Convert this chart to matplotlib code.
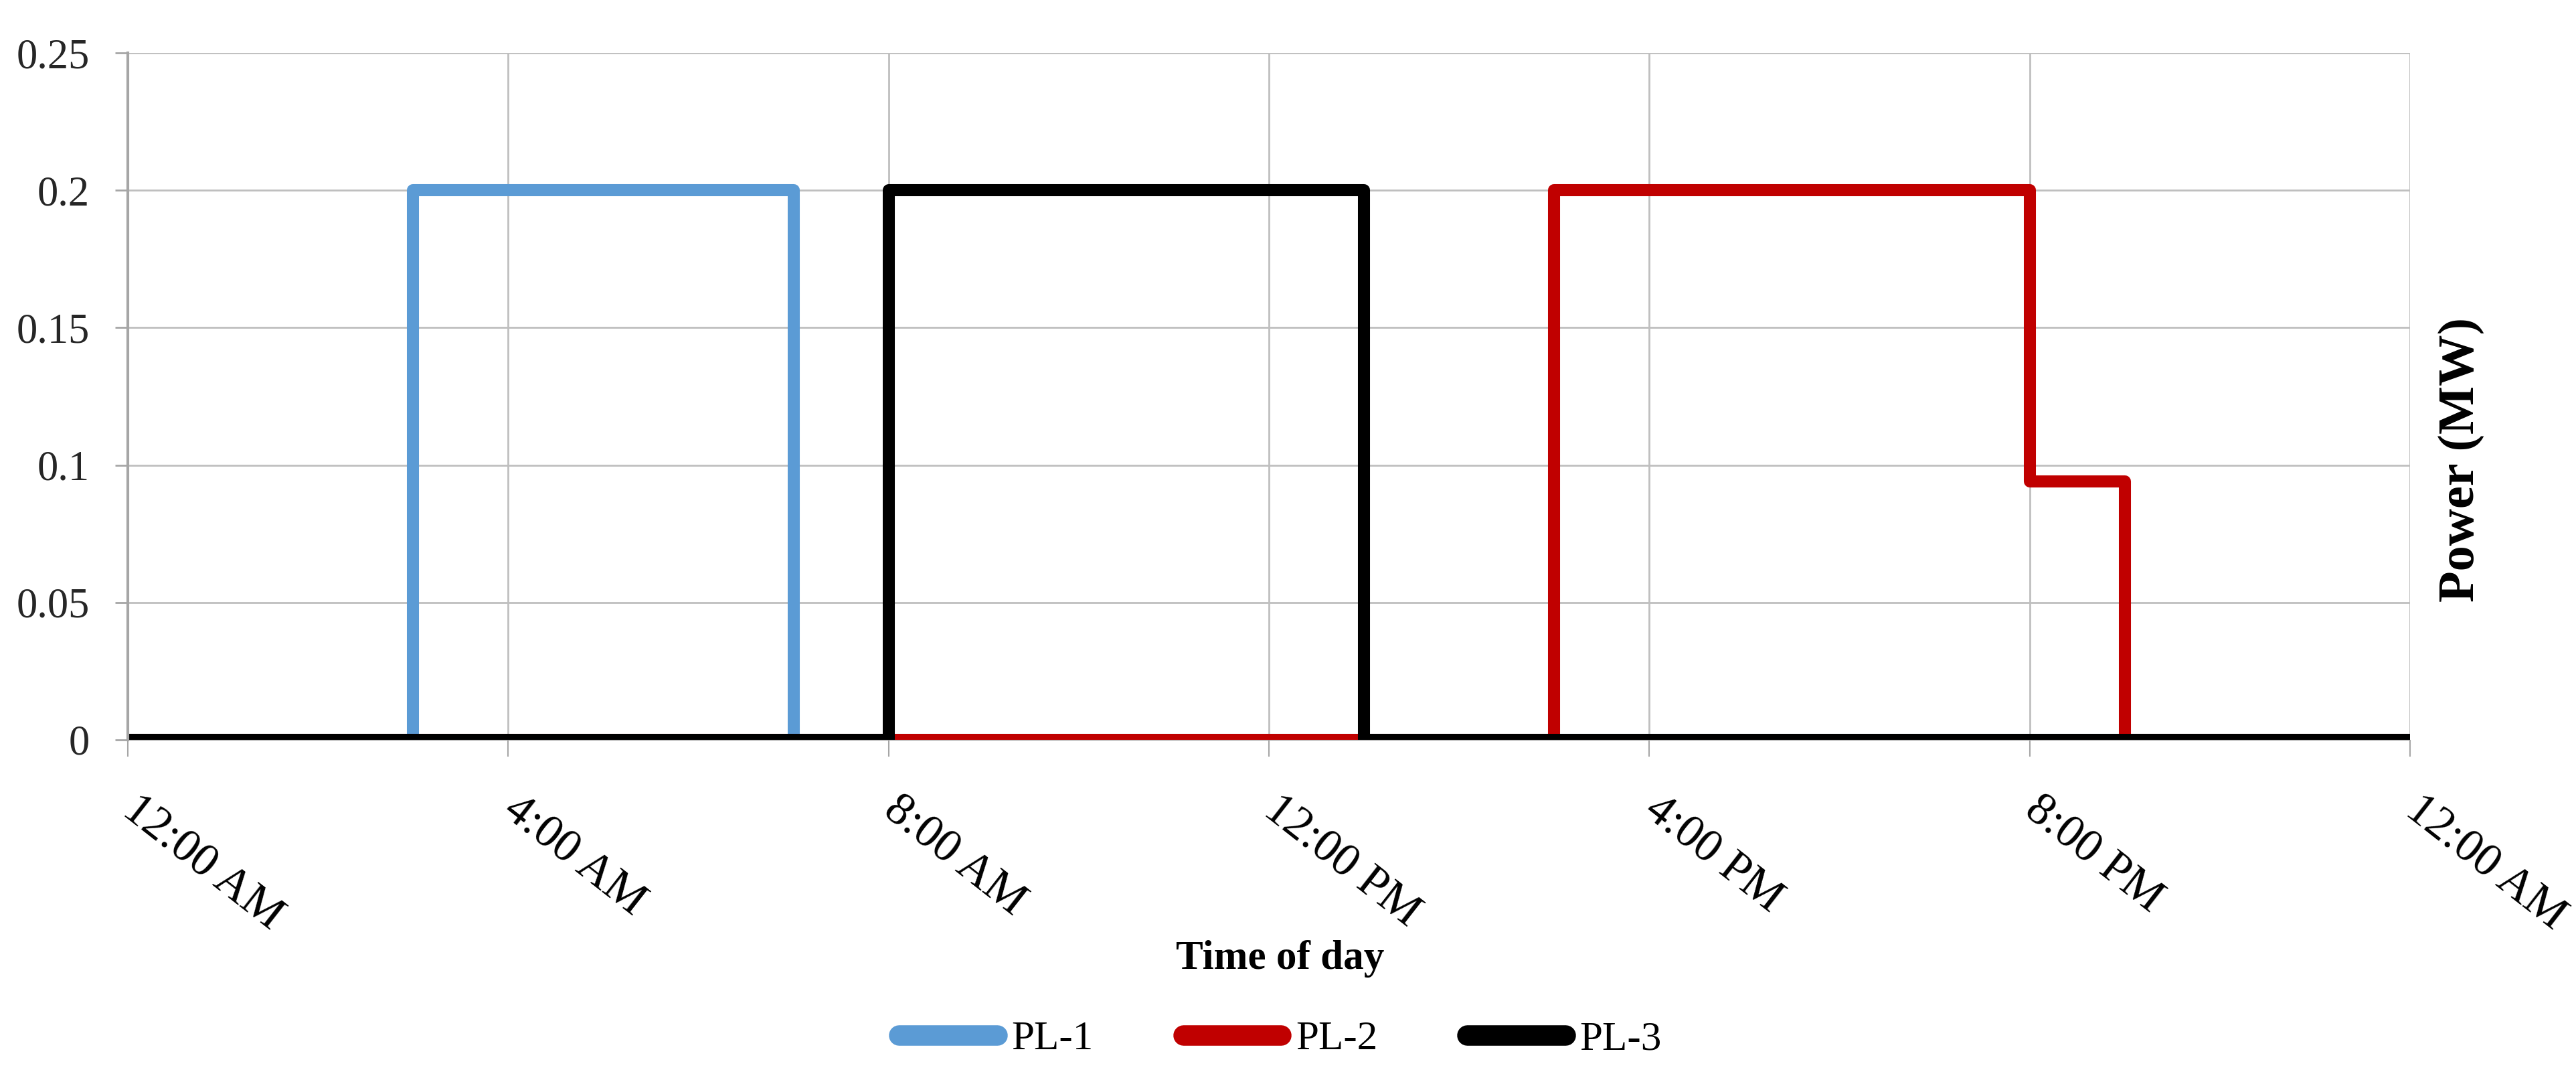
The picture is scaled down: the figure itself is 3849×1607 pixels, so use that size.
import numpy as np
import matplotlib
matplotlib.use('Agg')
import matplotlib.pyplot as plt

# hourly load profile (MW), value holds from the hour until the next one
hours = np.arange(0, 25)
pl1 = [0, 0, 0, 0.2, 0.2, 0.2, 0.2, 0, 0, 0, 0, 0,
       0, 0, 0, 0, 0, 0, 0, 0, 0, 0, 0, 0]
pl2 = [0, 0, 0, 0, 0, 0, 0, 0, 0, 0, 0, 0,
       0, 0, 0, 0.2, 0.2, 0.2, 0.2, 0.2, 0.094, 0, 0, 0]
pl3 = [0, 0, 0, 0, 0, 0, 0, 0, 0.2, 0.2, 0.2, 0.2,
       0.2, 0, 0, 0, 0, 0, 0, 0, 0, 0, 0, 0]

series = [("PL-1", pl1, "#5B9BD5"), ("PL-2", pl2, "#C00000"), ("PL-3", pl3, "#000000")]

tick_hours = [0, 4, 8, 12, 16, 20, 24]
tick_labels = ["12:00 AM", "4:00 AM", "8:00 AM", "12:00 PM", "4:00 PM", "8:00 PM", "12:00 AM"]
y_ticks = [0, 0.05, 0.1, 0.15, 0.2, 0.25]
y_labels = ["0", "0.05", "0.1", "0.15", "0.2", "0.25"]

serif = "Liberation Serif"

fig = plt.figure(figsize=(38.49, 16.07), dpi=100)
ax = fig.add_axes([0.0496, 0.3124, 0.886, 0.6384])

for name, vals, color in series:
    ax.step(hours, np.append(vals, vals[-1]), where="post", color=color,
            lw=13, label=name, solid_joinstyle="round", solid_capstyle="butt")

ax.set_xlim(0, 24)
ax.set_ylim(0, 0.25)
ax.set_xticks(tick_hours)
ax.set_xticklabels(tick_labels, rotation=-38, ha="left", va="center",
                   rotation_mode="anchor", fontfamily=serif, fontsize=50)
ax.set_yticks(y_ticks)
ax.set_yticklabels(y_labels, fontfamily=serif, fontsize=45)

ax.grid(True, color="#BFBFBF", lw=2)
ax.set_axisbelow(True)
for s in ["top", "right"]:
    ax.spines[s].set_visible(False)
ax.spines["left"].set_color("#A6A6A6")
ax.spines["left"].set_linewidth(3)
ax.spines["bottom"].set_color("#A6A6A6")
ax.tick_params(axis="y", length=14, width=2, color="#A6A6A6", pad=27, labelcolor="#262626")
ax.tick_params(axis="x", length=18, width=1.5, color="#A6A6A6", pad=52, labelcolor="black")

fig.text(0.497, 0.109, "Time of day", family=serif, weight="bold",
         fontsize=44, ha="center", va="center")
fig.text(0.9555, 0.573, "Power (MW)", family=serif, weight="bold",
         fontsize=55, rotation=90, ha="center", va="center")

leg = fig.legend(loc="center", bbox_to_anchor=(0.497, 0.034), ncol=3, frameon=False,
                 prop={"family": serif, "size": 44}, handlelength=2.4,
                 handletextpad=0.35, columnspacing=2.2)
for line in leg.get_lines():
    line.set_linewidth(22)
    line.set_solid_capstyle("round")

fig.savefig("out.png", dpi=100)
